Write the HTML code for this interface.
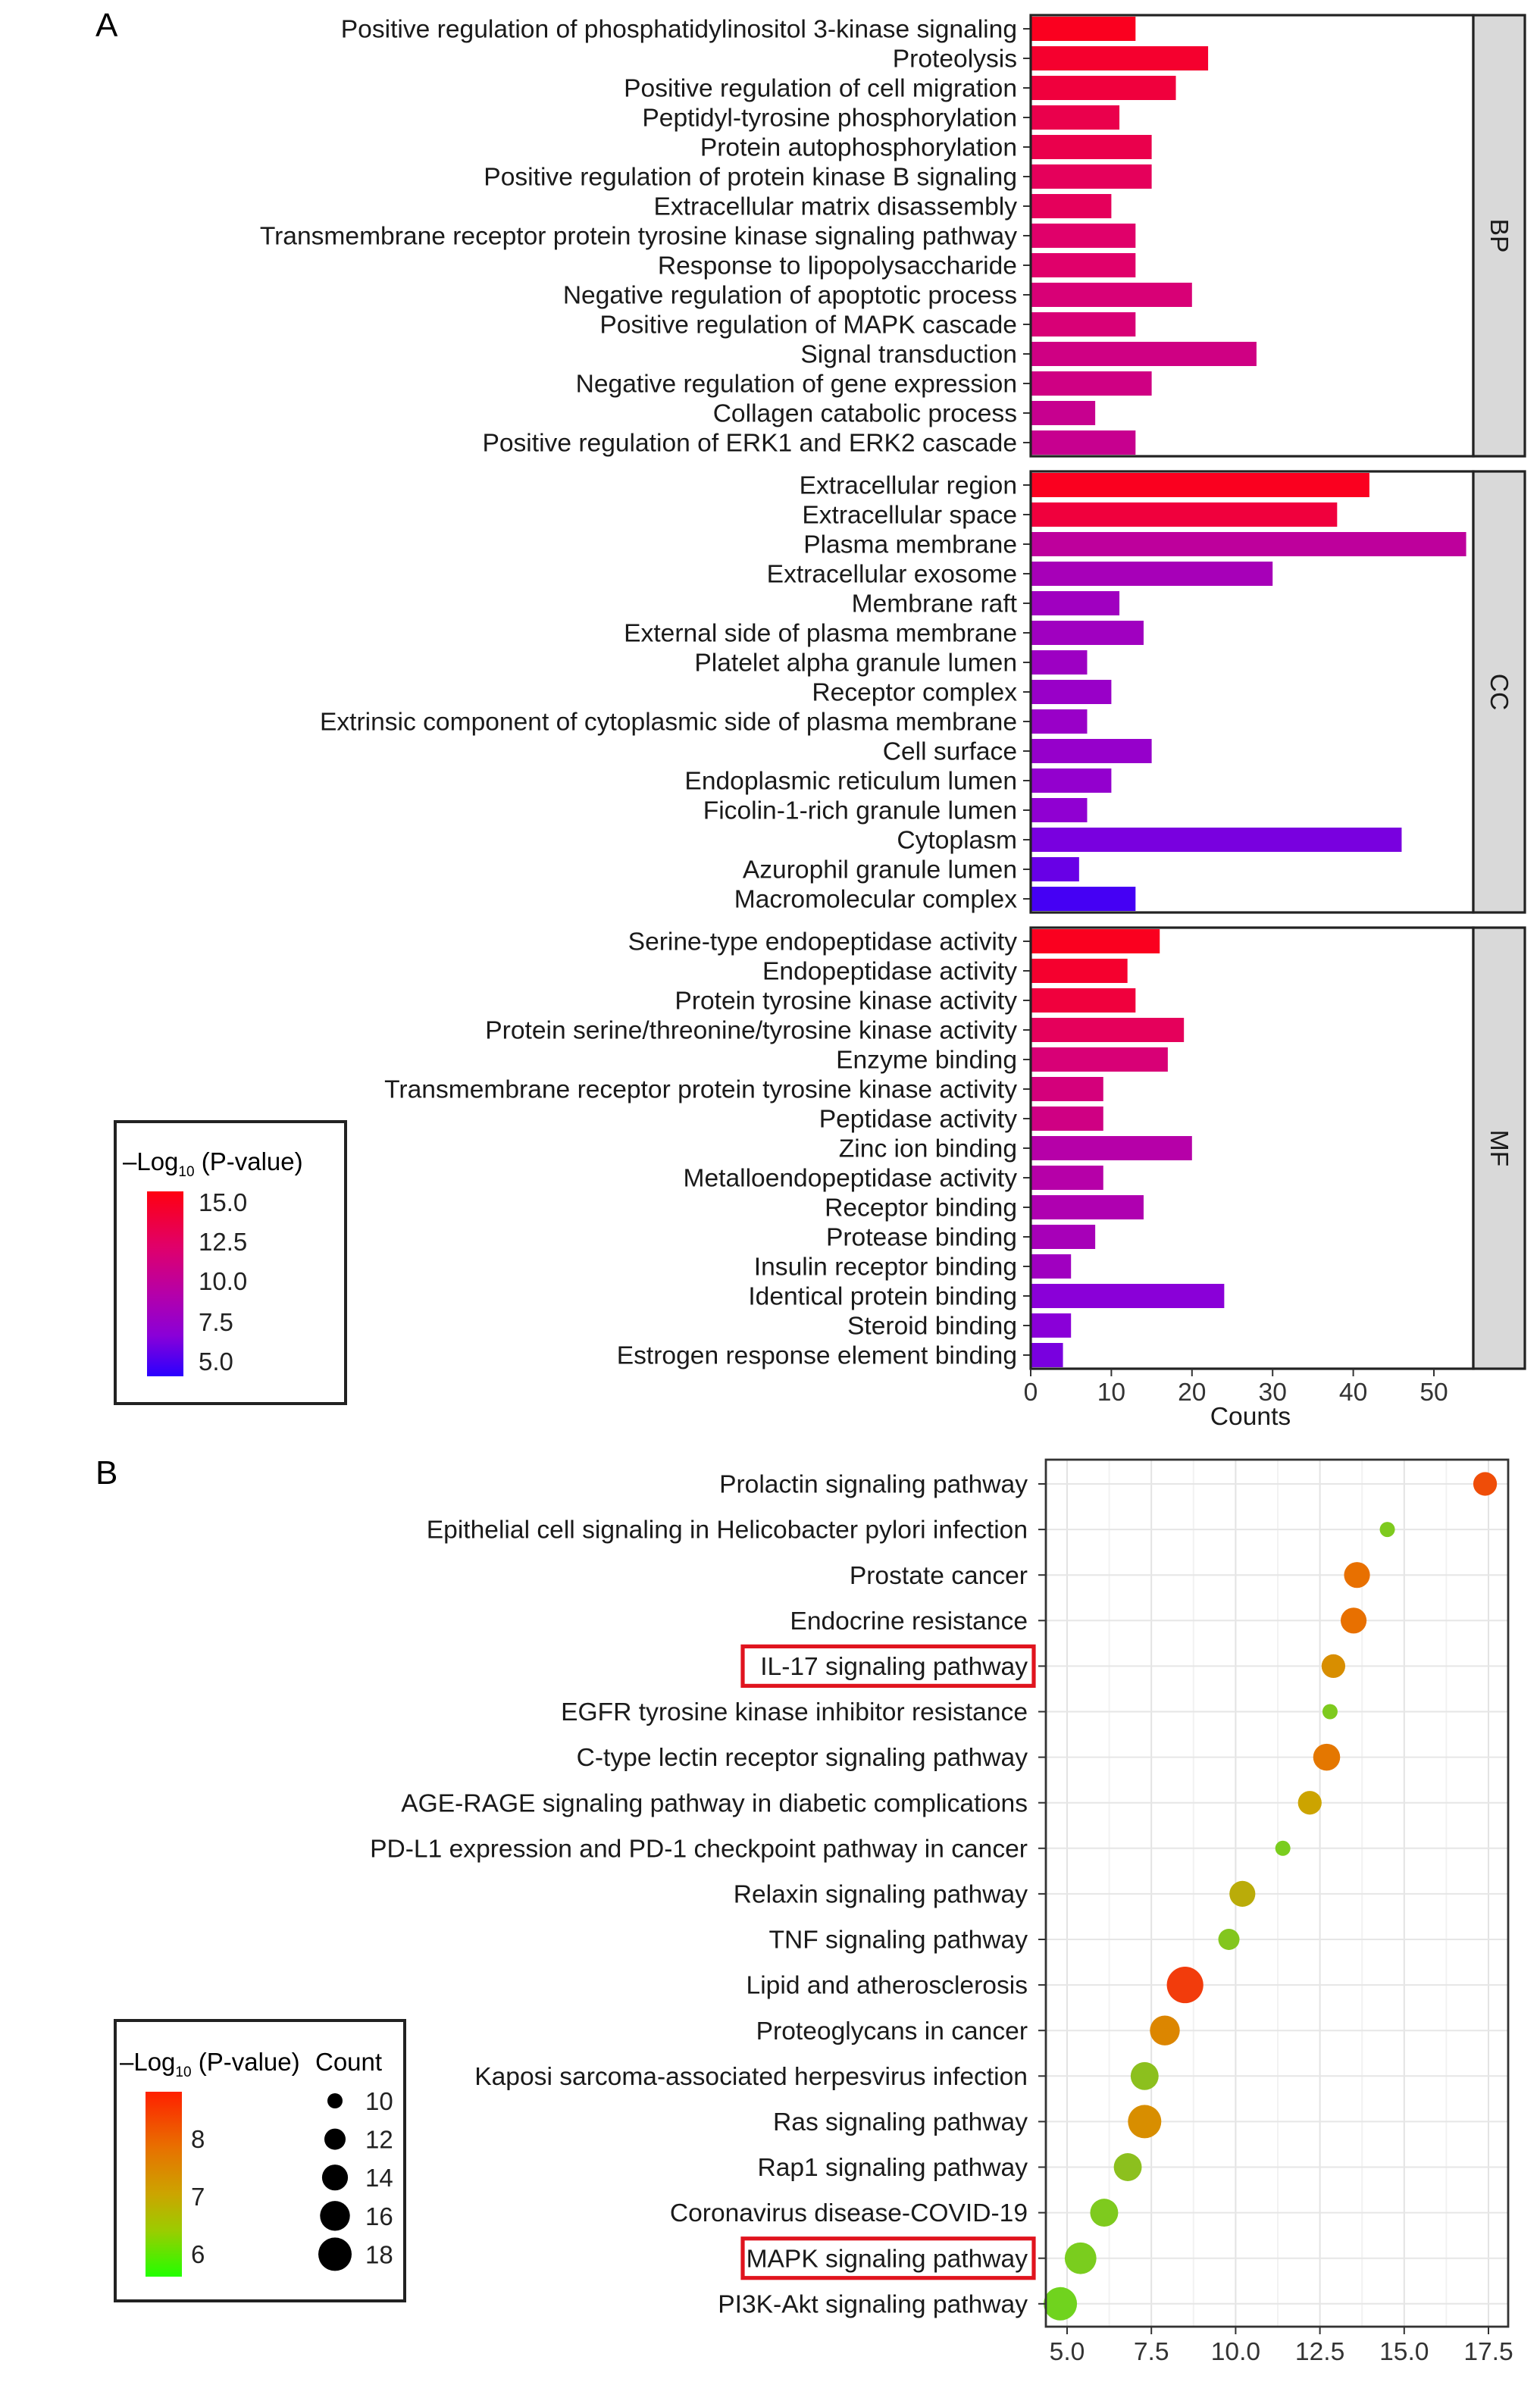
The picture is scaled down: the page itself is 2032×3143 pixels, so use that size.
<!DOCTYPE html>
<html><head><meta charset="utf-8"><style>
html,body{margin:0;padding:0;background:#fff;}
svg{display:block;font-family:"Liberation Sans",Arial,sans-serif;}
</style></head><body>
<svg id="fig" width="2032" height="3143" viewBox="0 0 1016 1571.5" xmlns="http://www.w3.org/2000/svg">
<defs>
<linearGradient id="gA" x1="0" y1="0" x2="0" y2="1">
<stop offset="0" stop-color="#ff0010"/><stop offset="0.3" stop-color="#e0006a"/><stop offset="0.55" stop-color="#b600a8"/><stop offset="0.78" stop-color="#8a00d8"/><stop offset="1" stop-color="#2a00ff"/>
</linearGradient>
<linearGradient id="gB" x1="0" y1="0" x2="0" y2="1">
<stop offset="0" stop-color="#ff2000"/><stop offset="0.3" stop-color="#e87000"/><stop offset="0.55" stop-color="#cca400"/><stop offset="0.75" stop-color="#9ccc00"/><stop offset="1" stop-color="#22ff00"/>
</linearGradient>
</defs>
<text x="63" y="24" font-size="22">A</text>
<text x="63" y="979" font-size="22">B</text>
<g id="pa"></g>
<g id="pb"></g>
<g>
<rect x="76" y="740" width="152" height="186" fill="#fff" stroke="#222" stroke-width="2"/>
<text x="81" y="772" font-size="16.5">–Log<tspan font-size="9.5" dy="4">10</tspan><tspan dy="-4"> (P-value)</tspan></text>
<rect x="97" y="786" width="24" height="122" fill="url(#gA)"/>
<g font-size="16.5" fill="#222">
<text x="131" y="799">15.0</text><text x="131" y="825">12.5</text><text x="131" y="851">10.0</text><text x="131" y="878">7.5</text><text x="131" y="904">5.0</text>
</g>
</g>
<g>
<rect x="76" y="1333" width="191" height="185" fill="#fff" stroke="#222" stroke-width="2"/>
<text x="79" y="1366" font-size="16.5">–Log<tspan font-size="9.5" dy="4">10</tspan><tspan dy="-4"> (P-value)</tspan></text>
<text x="208" y="1366" font-size="16.5">Count</text>
<rect x="96" y="1380" width="24" height="122" fill="url(#gB)"/>
<g font-size="16.5" fill="#222">
<text x="126" y="1417">8</text><text x="126" y="1455">7</text><text x="126" y="1493">6</text>
</g>
<g id="sizeleg"></g>
</g>
</svg>
<script>
// ---------- Panel A data ----------
const bpTerms=["Positive regulation of phosphatidylinositol 3-kinase signaling","Proteolysis","Positive regulation of cell migration","Peptidyl-tyrosine phosphorylation","Protein autophosphorylation","Positive regulation of protein kinase B signaling","Extracellular matrix disassembly","Transmembrane receptor protein tyrosine kinase signaling pathway","Response to lipopolysaccharide","Negative regulation of apoptotic process","Positive regulation of MAPK cascade","Signal transduction","Negative regulation of gene expression","Collagen catabolic process","Positive regulation of ERK1 and ERK2 cascade"];
const bpCounts=[13,22,18,11,15,15,10,13,13,20,13,28,15,8,13];
const bpLogP=[15,14.5,14,13.5,13.5,13,13,12.5,12.5,12,12,11.5,11.5,11,11];
const ccTerms=["Extracellular region","Extracellular space","Plasma membrane","Extracellular exosome","Membrane raft","External side of plasma membrane","Platelet alpha granule lumen","Receptor complex","Extrinsic component of cytoplasmic side of plasma membrane","Cell surface","Endoplasmic reticulum lumen","Ficolin-1-rich granule lumen","Cytoplasm","Azurophil granule lumen","Macromolecular complex"];
const ccCounts=[42,38,54,30,11,14,7,10,7,15,10,7,46,6,13];
const ccLogP=[15,14,10.5,9,8.5,8.5,8.3,8,8,7.8,7.6,7.4,6.5,6,5];
const mfTerms=["Serine-type endopeptidase activity","Endopeptidase activity","Protein tyrosine kinase activity","Protein serine/threonine/tyrosine kinase activity","Enzyme binding","Transmembrane receptor protein tyrosine kinase activity","Peptidase activity","Zinc ion binding","Metalloendopeptidase activity","Receptor binding","Protease binding","Insulin receptor binding","Identical protein binding","Steroid binding","Estrogen response element binding"];
const mfCounts=[16,12,13,19,17,9,9,20,9,14,8,5,24,5,4];
const mfLogP=[15,14.5,14,13,12,11.8,11.5,10,10,9.5,9,8.5,7,7,6.5];
const countTicks=[0,10,20,30,40,50];
const panelNames=["BP","CC","MF"];

// ---------- Panel B data ----------
const keggTerms=["Prolactin signaling pathway","Epithelial cell signaling in Helicobacter pylori infection","Prostate cancer","Endocrine resistance","IL-17 signaling pathway","EGFR tyrosine kinase inhibitor resistance","C-type lectin receptor signaling pathway","AGE-RAGE signaling pathway in diabetic complications","PD-L1 expression and PD-1 checkpoint pathway in cancer","Relaxin signaling pathway","TNF signaling pathway","Lipid and atherosclerosis","Proteoglycans in cancer","Kaposi sarcoma-associated herpesvirus infection","Ras signaling pathway","Rap1 signaling pathway","Coronavirus disease-COVID-19","MAPK signaling pathway","PI3K-Akt signaling pathway"];
const keggX=[17.4,14.5,13.6,13.5,12.9,12.8,12.7,12.2,11.4,10.2,9.8,8.5,7.9,7.3,7.3,6.8,6.1,5.4,4.8];
const keggCount=[13,10,14,14,13,10,14.5,13,10,14,12,20,16,15,18,15,15,17,18];
const keggLogP=[8.4,6.3,8.0,8.0,7.6,6.3,7.9,7.3,6.2,7.1,6.4,8.6,7.7,6.6,7.6,6.6,6.3,6.2,6.0];
const keggXTicks=[5,7.5,10,12.5,15,17.5];
const sizeLegend=[10,12,14,16,18];
const highlighted=["IL-17 signaling pathway","MAPK signaling pathway"];

const FS=16.8;
const NS="http://www.w3.org/2000/svg";
function mk(tag,attrs,parent){const e=document.createElementNS(NS,tag);for(const k in attrs)e.setAttribute(k,attrs[k]);parent.appendChild(e);return e;}
function lerpHex(a,b,t){const pa=[1,3,5].map(i=>parseInt(a.substr(i,2),16)),pb=[1,3,5].map(i=>parseInt(b.substr(i,2),16));return "rgb("+pa.map((v,i)=>Math.round(v+(pb[i]-v)*t)).join(",")+")";}
function scaleColor(stops,v){if(v<=stops[0][0])return stops[0][1];for(let i=1;i<stops.length;i++){if(v<=stops[i][0]){const t=(v-stops[i-1][0])/(stops[i][0]-stops[i-1][0]);return lerpHex(stops[i-1][1],stops[i][1],t);}}return stops[stops.length-1][1];}
const stopsA=[[4.2,"#2a00ff"],[7.0,"#8a00d8"],[10,"#b600a8"],[12.5,"#e0006a"],[15.5,"#ff0010"]];
const stopsB=[[5.6,"#5ee01e"],[6.6,"#8cc01e"],[7.3,"#cca400"],[8.0,"#e87000"],[8.8,"#f52a10"]];

const pa=document.getElementById('pa');
const ax0=680, axW=292, xPer=5.32;
const xA=v=>ax0+v*xPer;
const pTops=[10,311,612], pH=291, rowH=19.5;
const sets=[[bpTerms,bpCounts,bpLogP],[ccTerms,ccCounts,ccLogP],[mfTerms,mfCounts,mfLogP]];
sets.forEach((s,pi)=>{
  const top=pTops[pi];
  const g=mk('g',{},pa);
  
  
  s[0].forEach((term,i)=>{
    const cy=top+9+i*rowH;
    const r=mk('rect',{x:xA(0),y:cy-8,width:xA(s[1][i])-xA(0),height:16,fill:scaleColor(stopsA,s[2][i])},g);
    
    
    mk('line',{x1:675,x2:680,y1:cy,y2:cy,stroke:'#333','stroke-width':1},g);
    const t=mk('text',{x:671,y:cy+5.8,'font-size':FS,'text-anchor':'end',fill:'#1a1a1a'},g);
    t.textContent=term;
    
    
  });
  mk('rect',{x:ax0,y:top,width:axW,height:pH,fill:'none',stroke:'#222','stroke-width':1.6},g);
  const st=mk('rect',{x:972,y:top,width:34,height:pH,fill:'#d9d9d9',stroke:'#222','stroke-width':1.6},g);
  
  
  const cyS=top+pH/2;
  const lt=mk('text',{x:989,y:cyS,'font-size':FS,'text-anchor':'middle',transform:'rotate(90 989 '+cyS+')',dy:5.5,fill:'#1a1a1a'},g);
  lt.textContent=panelNames[pi];
});
countTicks.forEach(v=>{
  mk('line',{x1:xA(v),x2:xA(v),y1:903,y2:908,stroke:'#333'},pa);
  const t=mk('text',{x:xA(v),y:924,'font-size':FS,'text-anchor':'middle',fill:'#333'},pa);
  t.textContent=v;
  
  
});
const xt=mk('text',{x:825,y:940,'font-size':FS,'text-anchor':'middle',fill:'#1a1a1a'},pa);
xt.textContent='Counts';



const pb=document.getElementById('pb');
const bL=690,bR=995,bT=963,bB=1535;
const xB=v=>704+(v-5)*22.24;
const yB=i=>979+i*30.05;
const rB=c=>Math.sqrt(Math.max(12*c-95,4));
mk('rect',{x:bL,y:bT,width:bR-bL,height:bB-bT,fill:'#fff'},pb);
for(let k=3;k<=15;k++){const v=k*1.25;const x=xB(v);if(x>bL && x<bR){mk('line',{x1:x,x2:x,y1:bT,y2:bB,stroke:(k%2===0)?'#e3e3e3':'#f2f2f2','stroke-width':1},pb);}}
keggTerms.forEach((t,i)=>mk('line',{x1:bL,x2:bR,y1:yB(i),y2:yB(i),stroke:'#e6e6e6','stroke-width':1},pb));
keggTerms.forEach((term,i)=>{
  const c=mk('circle',{cx:xB(keggX[i]),cy:yB(i),r:rB(keggCount[i]),fill:scaleColor(stopsB,keggLogP[i])},pb);
  
  
  mk('line',{x1:685,x2:690,y1:yB(i),y2:yB(i),stroke:'#333'},pb);
  const t=mk('text',{x:678,y:yB(i)+5.8,'font-size':FS,'text-anchor':'end',fill:'#1a1a1a'},pb);
  t.textContent=term;
  
  
  if(highlighted.includes(term)){
    const hb=mk('rect',{x:490,y:yB(i)-13,width:192,height:26,fill:'none',stroke:'#e0141e','stroke-width':2.6},pb);
    
    
  }
});
mk('rect',{x:bL,y:bT,width:bR-bL,height:bB-bT,fill:'none',stroke:'#333','stroke-width':1.4},pb);
keggXTicks.forEach(v=>{
  mk('line',{x1:xB(v),x2:xB(v),y1:bB,y2:bB+5,stroke:'#333'},pb);
  const t=mk('text',{x:xB(v),y:bB+22,'font-size':FS,'text-anchor':'middle',fill:'#333'},pb);
  t.textContent=v.toFixed(1);
  
  
});
const sl=document.getElementById('sizeleg');
sizeLegend.forEach((c,i)=>{
  const y=1386+i*25.3;
  const d=mk('circle',{cx:221,cy:y,r:rB(c),fill:'#000'},sl);
  
  
  const t=mk('text',{x:241,y:y+6,'font-size':16.5,fill:'#222'},sl);
  t.textContent=c;
});
</script>
</body></html>
